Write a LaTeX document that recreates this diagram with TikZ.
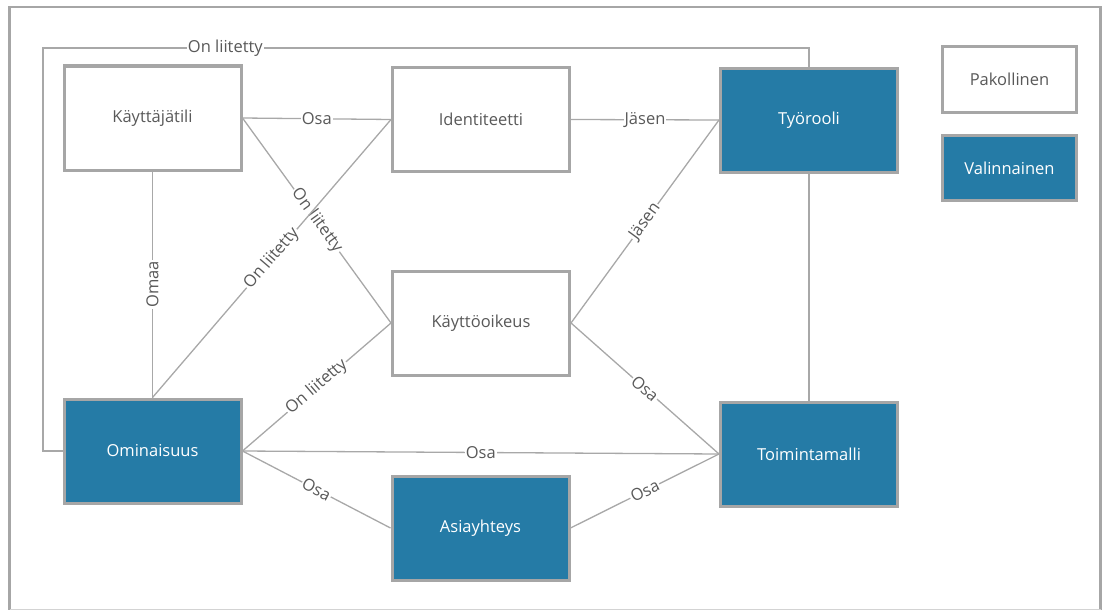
\documentclass[tikz,border=0pt]{standalone}
\usepackage{fontspec}
\setmainfont{Open Sans}
\definecolor{boxblue}{HTML}{257BA6}
\definecolor{boxgray}{HTML}{A6A6A6}
\definecolor{linegray}{HTML}{A8A8A8}
\definecolor{txtgray}{HTML}{595959}
\begin{document}
\begin{tikzpicture}[x=1pt,y=-1pt,
  basebox/.style={rectangle, draw=boxgray, line width=3pt, minimum width=177pt, minimum height=104pt, inner sep=0pt, font=\fontsize{16.5}{19}\selectfont},
  reqbox/.style={basebox, fill=white, text=txtgray},
  optbox/.style={basebox, fill=boxblue, text=white},
  legbox/.style={minimum width=134pt, minimum height=65pt},
  conn/.style={draw=linegray, line width=1.3pt},
  lbl/.style={fill=white, inner sep=1pt, text=txtgray, font=\fontsize{16.5}{19}\selectfont},
]
\useasboundingbox (0,0) rectangle (1102,610);
% frame
\draw[boxgray, line width=2.5pt] (9.5,609.5) -- (9.5,7) -- (1100.5,7) -- (1100.5,609.5);
\draw[boxgray!50, line width=1pt] (9.5,609.5) -- (1100.5,609.5);

% nodes
\node[reqbox] (kt) at (152.5,118) {Käyttäjätili};
\node[reqbox] (id) at (481,119.5) {Identiteetti};
\node[optbox] (tr) at (809,120) {Työrooli};
\node[reqbox] (ko) at (481,323) {Käyttöoikeus};
\node[optbox] (om) at (152.5,451) {Ominaisuus};
\node[optbox] (ay) at (480.5,528) {Asiayhteys};
\node[optbox] (tm) at (809,454) {Toimintamalli};
\node[reqbox, legbox] (pak) at (1009.5,79.5) {Pakollinen};
\node[optbox, legbox] (val) at (1009.5,168) {Valinnainen};

\coordinate (c1) at (43,48);
\coordinate (c2) at (809,48);

% connectors
\draw[conn] (om.west) -- (c1 |- om.west) -- (c1) -- node[lbl, pos=0.238] {On liitetty} (c2) -- (tr.north);
\draw[conn] (kt.east) -- node[lbl] {Osa} (id.west);
\draw[conn] (id.east) -- node[lbl] {Jäsen} (tr.west);
\draw[conn] (kt.east) -- node[lbl, sloped] {On liitetty} (ko.west);
\draw[conn] (om.north) -- node[lbl, sloped] {On liitetty} (id.west);
\draw[conn] (kt.south) -- node[lbl, rotate=90] {Omaa} (om.north);
\draw[conn] (ko.west) -- node[lbl, sloped] {On liitetty} (om.east);
\draw[conn] (ko.east) -- node[lbl, sloped] {Jäsen} (tr.west);
\draw[conn] (ko.east) -- node[lbl, sloped] {Osa} (tm.west);
\draw[conn] (tr.south) -- (tm.north);
\draw[conn] (om.east) -- node[lbl] {Osa} (tm.west);
\draw[conn] (om.east) -- node[lbl, sloped] {Osa} (ay.west);
\draw[conn] (ay.east) -- node[lbl, sloped] {Osa} (tm.west);
\end{tikzpicture}
\end{document}
